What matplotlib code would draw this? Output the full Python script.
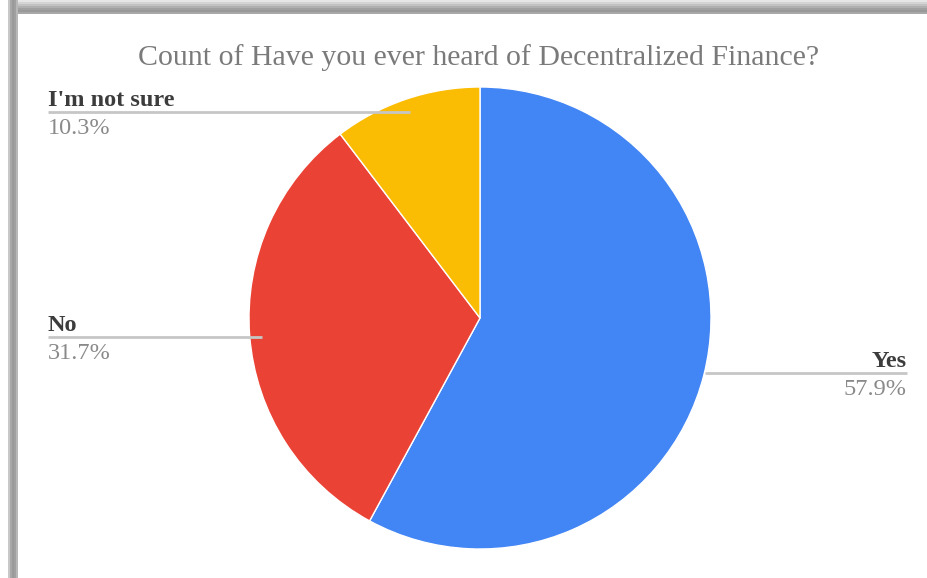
import matplotlib.pyplot as plt
from matplotlib.patches import Rectangle

W, H = 927, 578

labels = ["Yes", "No", "I'm not sure"]
counts = [84, 46, 15]
colors = ["#4285F4", "#EA4335", "#FBBC04"]
title = "Count of Have you ever heard of Decentralized Finance?"

plt.rcParams['font.family'] = ['Liberation Serif', 'DejaVu Serif']

fig = plt.figure(figsize=(W / 100, H / 100), dpi=100)
ax = fig.add_axes([0, 0, 1, 1])

def Y(y):
    # screen rows counted from the top
    return H - y

cx, cy, r = 480, 318, 231
ax.pie(counts, colors=colors, startangle=90, counterclock=False,
       center=(cx, Y(cy)), radius=r,
       wedgeprops=dict(edgecolor="white", linewidth=1))
ax.set_xlim(0, W)
ax.set_ylim(0, H)
ax.set_aspect('equal')
ax.axis('off')

total = sum(counts)
pct = [f"{100 * c / total:.1f}%" for c in counts]

# leader lines: (x0, x1, y) with the text anchor side
leaders = {
    "Yes": (705, 907, 373, 'right'),
    "No": (48, 262, 337, 'left'),
    "I'm not sure": (48, 410, 112, 'left'),
}
for lab, p in zip(labels, pct):
    x0, x1, ly, side = leaders[lab]
    ax.plot([x0, x1], [Y(ly), Y(ly)], color="#c6c6c6", lw=2, solid_capstyle='butt')
    tx = x0 if side == 'left' else x1
    ax.text(tx, Y(ly - 6), lab, ha=side, va='baseline', fontsize=17.5,
            fontweight='bold', color="#3c3c3c")
    ax.text(tx, Y(ly + 6), p, ha=side, va='top', fontsize=17.5, color="#8a8a8a")

ax.text(479, Y(58), title, ha='center', va='center', fontsize=21.5, color="#7a7a7a")

# window frame shading along the top and left edges
shades = ["#e6e6e6", "#d4d4d4", "#c2c2c2", "#b0b0b0", "#a0a0a0", "#999999", "#a8a8a8"]
for i, c in enumerate(shades):
    ax.add_patch(Rectangle((8, Y(2 * i + 2)), W, 2, color=c, lw=0))
for i, c in enumerate(["#c8c8c8", "#a8a8a8", "#9a9a9a", "#a0a0a0", "#b8b8b8"]):
    ax.add_patch(Rectangle((8 + 2 * i, 0), 2, Y(0), color=c, lw=0))

fig.savefig("out.png", dpi=100)
